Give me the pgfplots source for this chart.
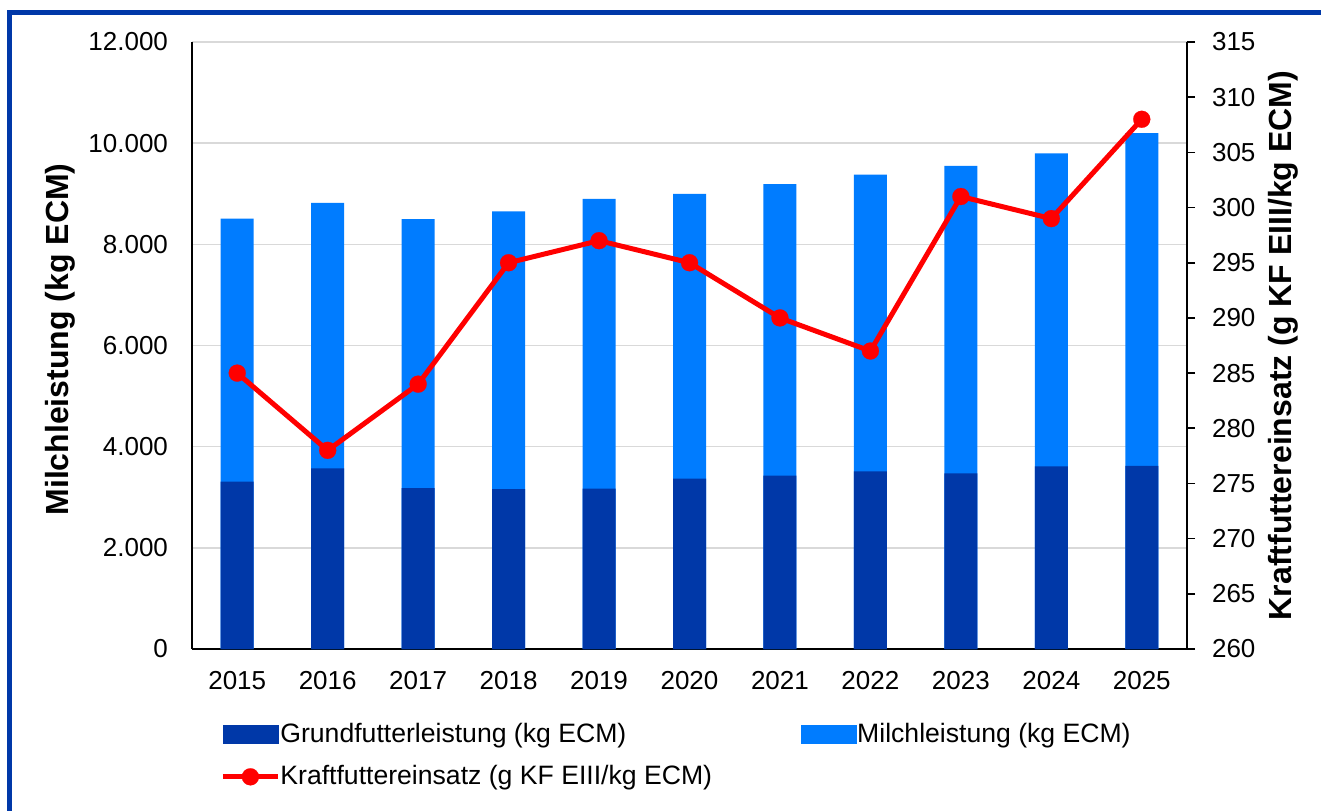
\documentclass[border=0pt]{standalone}
\usepackage{fontspec}
\setmainfont{Liberation Sans}
\usepackage{pgfplots}
\usepackage{pgfplotstable}
\pgfplotsset{compat=1.18}
\definecolor{dkblue}{RGB}{0,56,168}
\definecolor{ltblue}{RGB}{0,124,255}
\definecolor{gridgray}{RGB}{217,217,217}

% x year milch grund kf
\pgfplotstableread{
x year milch grund kf
0  2015 8510  3310 285
1  2016 8820  3570 278
2  2017 8500  3180 284
3  2018 8650  3160 295
4  2019 8900  3170 297
5  2020 9000  3370 295
6  2021 9190  3430 290
7  2022 9380  3510 287
8  2023 9550  3470 301
9  2024 9800  3610 299
10 2025 10200 3620 308
}\data

\pgfplotsset{
  base/.style={
    at={(0,0)}, anchor=south west,
    scale only axis, width=497.5pt, height=303.5pt,
    xmin=-0.5, xmax=10.5,
    axis line style={line width=0.8pt},
    /pgf/number format/assume math mode=true,
    tick label style={font=\fontsize{13}{15}\selectfont},
    label style={font=\fontsize{16}{19}\selectfont\bfseries},
  },
  lineleg/.style={legend image code/.code={%
    \draw[mark repeat=2, mark phase=2, ##1] plot coordinates {(0pt,0pt) (13.75pt,0pt) (27.5pt,0pt)};
    \path (27.5pt,0pt);}},
  boxleg/.style={legend image code/.code={%
    \fill[#1] (0pt,-4.6pt) rectangle (27.5pt,4.6pt);}},
}

\begin{document}
\begin{tikzpicture}
\useasboundingbox (-96pt,-80.5pt) rectangle (564.5pt,324.5pt);
\fill[white] (-96pt,-80.5pt) rectangle (564.5pt,324.5pt);
\draw[dkblue, line width=2.5pt] (-91.25pt,-85pt) -- (-91.25pt,318.25pt) -- (570pt,318.25pt);

\begin{axis}[
  base,
  ymin=0, ymax=12000,
  axis x line*=bottom, axis y line*=left,
  xtick={0,...,10},
  xticklabels={2015,2016,2017,2018,2019,2020,2021,2022,2023,2024,2025},
  ytick={0,2000,...,12000},
  major tick length=0pt,
  ymajorgrids, grid style={gridgray, line width=0.75pt},
  scaled y ticks=false,
  yticklabel style={/pgf/number format/1000 sep={.}, xshift=-8.5pt},
  xticklabel style={yshift=-7.5pt},
  ylabel={Milchleistung (kg ECM)},
  ylabel style={at={(axis description cs:0,0.5)}, anchor=center, yshift=65.75pt, xshift=3pt},
]
\addplot[ybar, bar width=16.5pt, bar shift=0pt, fill=ltblue, draw=none] table[x=x,y=milch]{\data};
\addplot[ybar, bar width=16.5pt, bar shift=0pt, fill=dkblue, draw=none] table[x=x,y=grund]{\data};
\end{axis}

\begin{axis}[
  base,
  ymin=260, ymax=315,
  axis x line=none, axis y line*=right,
  ytick={260,265,...,315},
  tick align=outside, major tick length=4pt,
  tick style={black, line width=0.8pt},
  yticklabel style={xshift=5pt},
  ylabel={Kraftfuttereinsatz (g KF EIII/kg ECM)},
  ylabel style={at={(axis description cs:1,0.5)}, anchor=center, yshift=-48pt},
  clip=false,
  legend columns=2,
  legend cell align=left,
  legend style={at={(axis description cs:0,0)}, anchor=north west,
    xshift=14pt, yshift=-37pt, draw=none, fill=none, inner sep=0pt,
    row sep=10pt, nodes={inner sep=0pt},
    font=\fontsize{13.3}{15}\selectfont},
]
\addlegendimage{boxleg=dkblue}
\addlegendimage{boxleg=ltblue}
\addplot[red, line width=2.5pt, mark=*, mark size=4.25pt,
  mark options={solid, fill=red, draw=red, line width=0.1pt}, lineleg]
  table[x=x,y=kf]{\data};
\legend{\makebox[260.5pt][l]{Grundfutterleistung (kg ECM)}, Milchleistung (kg ECM), Kraftfuttereinsatz (g KF EIII/kg ECM)}
\end{axis}
\end{tikzpicture}
\end{document}
